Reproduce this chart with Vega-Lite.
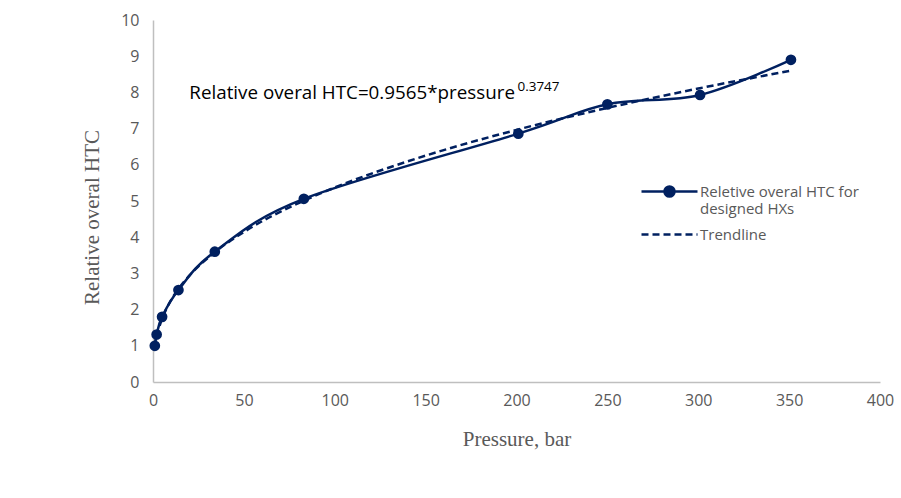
{
  "$schema": "https://vega.github.io/schema/vega-lite/v6.json",
  "width": 727,
  "height": 362,
  "autosize": {"type": "none"},
  "padding": {"left": 153, "top": 20, "right": 21, "bottom": 116},
  "background": "white",
  "config": {
    "view": {"stroke": null},
    "axis": {"grid": false, "ticks": false, "domainColor": "#bfbfbf", "domainWidth": 1.5,
      "labelColor": "#595959", "labelFont": "Open Sans", "labelFontSize": 16, "labelFlush": false,
      "titleFont": "Liberation Serif", "titleFontSize": 21, "titleFontWeight": "normal", "titleColor": "#595959"},
    "legend": {"labelFont": "Open Sans", "labelFontSize": 15, "labelColor": "#595959", "title": null}
  },
  "datasets": {
    "obs": [
      {"pressure": 1, "htc": 1.0, "series": "Reletive overal HTC for designed HXs"},
      {"pressure": 2, "htc": 1.31, "series": "Reletive overal HTC for designed HXs"},
      {"pressure": 5, "htc": 1.8, "series": "Reletive overal HTC for designed HXs"},
      {"pressure": 14, "htc": 2.54, "series": "Reletive overal HTC for designed HXs"},
      {"pressure": 34, "htc": 3.6, "series": "Reletive overal HTC for designed HXs"},
      {"pressure": 83, "htc": 5.06, "series": "Reletive overal HTC for designed HXs"},
      {"pressure": 201, "htc": 6.86, "series": "Reletive overal HTC for designed HXs"},
      {"pressure": 250, "htc": 7.67, "series": "Reletive overal HTC for designed HXs"},
      {"pressure": 301, "htc": 7.93, "series": "Reletive overal HTC for designed HXs"},
      {"pressure": 351, "htc": 8.9, "series": "Reletive overal HTC for designed HXs"}
    ],
    "trend": [
      {"pressure": 1, "htc": 0.957, "trend": "Trendline"},
      {"pressure": 2, "htc": 1.24, "trend": "Trendline"},
      {"pressure": 3, "htc": 1.444, "trend": "Trendline"},
      {"pressure": 5, "htc": 1.748, "trend": "Trendline"},
      {"pressure": 8, "htc": 2.085, "trend": "Trendline"},
      {"pressure": 14, "htc": 2.571, "trend": "Trendline"},
      {"pressure": 20, "htc": 2.939, "trend": "Trendline"},
      {"pressure": 34, "htc": 3.585, "trend": "Trendline"},
      {"pressure": 50, "htc": 4.143, "trend": "Trendline"},
      {"pressure": 83, "htc": 5.009, "trend": "Trendline"},
      {"pressure": 100, "htc": 5.372, "trend": "Trendline"},
      {"pressure": 150, "htc": 6.253, "trend": "Trendline"},
      {"pressure": 200, "htc": 6.964, "trend": "Trendline"},
      {"pressure": 250, "htc": 7.571, "trend": "Trendline"},
      {"pressure": 300, "htc": 8.107, "trend": "Trendline"},
      {"pressure": 350, "htc": 8.59, "trend": "Trendline"}
    ],
    "notes": [
      {"pressure": 20, "htc": 7.98, "label": "Relative overal HTC=0.9565*pressure", "kind": "main"},
      {"pressure": 200.5, "htc": 8.16, "label": "0.3747", "kind": "sup"}
    ]
  },
  "encoding": {
    "x": {"field": "pressure", "type": "quantitative", "scale": {"domain": [0, 400], "nice": false},
      "axis": {"values": [0, 50, 100, 150, 200, 250, 300, 350, 400], "labelPadding": 10, "titlePadding": 20, "title": "Pressure, bar"}},
    "y": {"field": "htc", "type": "quantitative", "scale": {"domain": [0, 10], "nice": false},
      "axis": {"values": [0, 1, 2, 3, 4, 5, 6, 7, 8, 9, 10], "labelPadding": 14, "titleX": -51, "titleY": 197, "title": "Relative overal HTC"}}
  },
  "layer": [
    {
      "data": {"name": "trend"},
      "mark": {"type": "line", "strokeWidth": 2.5, "interpolate": "monotone", "color": "#002060"},
      "encoding": {
        "strokeDash": {"field": "trend", "type": "nominal",
          "scale": {"domain": ["Trendline"], "range": [[7, 4]]},
          "legend": {"orient": "none", "legendX": 487, "legendY": 199, "symbolType": "M-1,0L3,0", "symbolSize": 784,
            "symbolStrokeWidth": 2.5, "symbolStrokeColor": "#002060", "labelOffset": 29}}
      }
    },
    {
      "data": {"name": "obs"},
      "mark": {"type": "line", "strokeWidth": 2.5, "interpolate": "cardinal", "color": "#002060"},
      "encoding": {}
    },
    {
      "data": {"name": "obs"},
      "mark": {"type": "point", "filled": true, "size": 115, "opacity": 1},
      "encoding": {
        "color": {"field": "series", "type": "nominal",
          "scale": {"domain": ["Reletive overal HTC for designed HXs"], "range": ["#002060"]},
          "legend": {"orient": "none", "legendX": 487, "legendY": 156,
            "symbolType": "M-1,0L3,0M0.64,0A0.36,0.36,0,1,0,1.36,0A0.36,0.36,0,1,0,0.64,0Z", "symbolSize": 784,
            "symbolStrokeWidth": 2.5, "symbolStrokeColor": "#002060", "symbolFillColor": "#002060", "symbolOpacity": 1, "labelOffset": 29,
            "labelExpr": "['Reletive overal HTC for', 'designed HXs']"}}
      }
    },
    {
      "data": {"name": "notes"},
      "transform": [{"filter": "datum.kind == 'main'"}],
      "mark": {"type": "text", "align": "left", "baseline": "middle", "font": "Open Sans", "fontSize": 18.8, "color": "#000000"},
      "encoding": {"text": {"field": "label"}}
    },
    {
      "data": {"name": "notes"},
      "transform": [{"filter": "datum.kind == 'sup'"}],
      "mark": {"type": "text", "align": "left", "baseline": "middle", "font": "Open Sans", "fontSize": 13.5, "color": "#000000"},
      "encoding": {"text": {"field": "label"}}
    }
  ]
}
